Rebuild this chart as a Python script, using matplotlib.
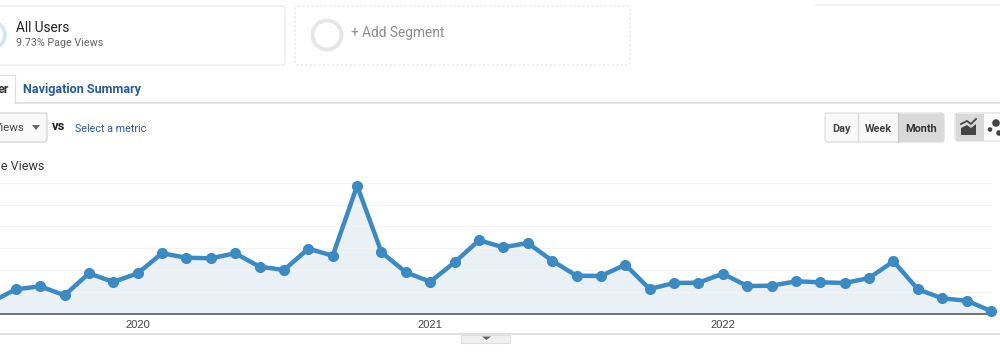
import matplotlib
matplotlib.use("Agg")
import matplotlib.pyplot as plt
from matplotlib.patches import FancyBboxPatch, Circle, Rectangle, Polygon

# monthly page views, Jul 2019 to Dec 2022
months = list(range(42))
views = [274, 564, 632, 427, 929, 731, 929, 1386, 1285, 1272,
         1386, 1080, 1005, 1491, 1331, 2929, 1409, 952, 737, 1180,
         1683, 1523, 1621, 1217, 874, 868, 1126, 571, 708, 715,
         920, 639, 646, 747, 724, 708, 822, 1203, 564, 358,
         304, 68]
year_pos = [6, 18, 30]
year_labels = ["2020", "2021", "2022"]
grid_vals = [500, 1000, 1500, 2000, 2500, 3000]

W, H = 1000, 362
blue = "#3d89c2"
link = "#2a5d96"

fig = plt.figure(figsize=(W / 100, H / 100), dpi=100)
plt.rcParams['font.family'] = ['Roboto', 'DejaVu Sans']

# page furniture drawn in pixel coords
ui = fig.add_axes([0, 0, 1, 1])
ui.set_xlim(0, W)
ui.set_ylim(H, 0)
ui.axis("off")


def box(x0, y0, x1, y1, fc="white", ec="#dddddd", ls="-", lw=0.8, r=3):
    ui.add_patch(FancyBboxPatch((x0 + r, y0 + r), x1 - x0 - 2 * r, y1 - y0 - 2 * r,
                                boxstyle="round,pad=%d,rounding_size=%d" % (r, r),
                                fc=fc, ec=ec, ls=ls, lw=lw))


def txt(x, y, s, size, color="#333333", weight="normal", ha="left", family="Roboto"):
    ui.text(x, y, s, fontsize=size * 0.72, color=color, fontweight=weight,
            ha=ha, va="center", family=family)


# segment cards
box(-10, 6, 285, 65, ec="#e6e6e6")
ui.add_patch(Circle((-8, 35), 13, fc="white", ec="#d3e4f2", lw=2.6))
txt(16, 28, "All Users", 13.6, "#222222")
txt(16, 43.5, "9.73% Page Views", 10.8, "#666666")
box(295, 6, 630, 65, ec="#e2e2e2", ls=(0, (2, 2)))
ui.add_patch(Circle((327, 35), 14.5, fc="white", ec="#e6e6e6", lw=2.8))
txt(351, 33, "+ Add Segment", 13.7, "#8c8c8c")
ui.plot([816, 1000], [5, 5], color="#f0f0f0", lw=1.2)

# tabs
ui.plot([15, 1000], [102.5, 102.5], color="#dcdcdc", lw=1.2)
ui.plot([0, 15, 15], [75, 75, 102], color="#e0e0e0", lw=0.9)
txt(-2, 89.5, "er", 12.6, "#333333", "bold")
txt(23, 89.5, "Navigation Summary", 12.6, link, "bold")

# metric selector
box(-10, 113, 47, 142, fc="#f9f9f9", ec="#d0d0d0")
txt(-6, 128, "Views", 11.5, "#444444")
ui.add_patch(Polygon([(32, 125), (40, 125), (36, 130)], fc="#666666", ec="none"))
txt(52, 127, "vs", 13, "#222222", "bold")
txt(75, 128.5, "Select a metric", 10.8, link)
txt(-21, 166.5, "Page Views", 12.5, "#333333")

# day/week/month buttons
box(825, 113, 944, 142, fc="#f9f9f9", ec="#dadada")
ui.add_patch(Rectangle((899, 114), 44.5, 27.5, fc="#d9d9d9", ec="none"))
ui.plot([858, 858], [113, 142], color="#d8d8d8", lw=0.9)
ui.plot([898, 898], [113, 142], color="#c8c8c8", lw=0.9)
txt(841.5, 128.5, "Day", 10.9, "#444444", "bold", "center")
txt(878, 128.5, "Week", 10.9, "#444444", "bold", "center")
txt(921, 128.5, "Month", 10.9, "#333333", "bold", "center")

# chart type buttons
box(955, 113, 1010, 141, fc="white", ec="#dadada")
ui.add_patch(Rectangle((955.5, 114), 28, 26.5, fc="#d9d9d9", ec="none"))
ui.add_patch(Polygon([(961, 135), (961, 128), (967, 125), (971, 128), (976, 124), (976, 135)],
                     fc="#444444", ec="none"))
ui.plot([961, 967, 971, 976], [124, 121, 124, 119], color="#444444", lw=1.3)
ui.add_patch(Circle((996, 123), 3.8, fc="#444444", ec="none"))
ui.add_patch(Circle((990, 129.5), 2.3, fc="#444444", ec="none"))
ui.add_patch(Circle((999, 133), 2.8, fc="#444444", ec="none"))

# bottom strip and scroller
ui.plot([0, 1000], [334, 334], color="#dcdcdc", lw=1.2)
ui.add_patch(Rectangle((461, 334.5), 49, 8, fc="#f0f0f0", ec="#e0e0e0", lw=0.8))
ui.add_patch(Polygon([(482, 336.5), (491, 336.5), (486.5, 340)], fc="#666666", ec="none"))

# the chart itself
x_left, x_right = 0.353, 41.04
top, bottom = 182.6, 314
ax = fig.add_axes([0, 1 - bottom / H, 992 / W, (bottom - top) / H])
ax.patch.set_alpha(0)
ax.set_xlim(x_left, x_right)
ax.set_ylim(0, 3000)
ax.fill_between(months, views, 0, color="#e9f1f7", lw=0, zorder=1)
line, = ax.plot(months, views, color=blue, lw=3.2, marker="o", ms=7,
                solid_joinstyle="round", zorder=3)
line.set_clip_on(False)
ax.set_yticks(grid_vals)
ax.tick_params(axis="y", length=0, labelleft=False)
ax.grid(axis="y", color="#f3f3f3", lw=0.9, zorder=2)
ax.set_axisbelow(False)
ax.set_xticks(year_pos)
ax.set_xticklabels(year_labels, fontsize=8, color="#444444", family="Liberation Sans")
ax.tick_params(axis="x", length=0, pad=4)
for s in ["top", "left", "right"]:
    ax.spines[s].set_visible(False)
ax.spines["bottom"].set_color("#666666")
ax.spines["bottom"].set_linewidth(1.3)

fig.savefig("out.png", dpi=100)
